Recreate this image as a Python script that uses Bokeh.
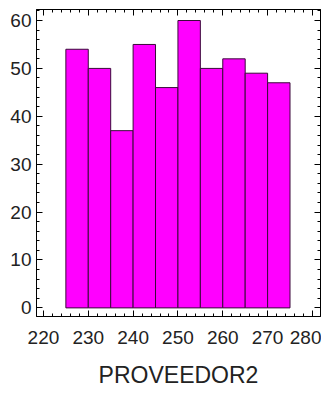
from bokeh.plotting import figure
from bokeh.models import LinearAxis, Range1d, SingleIntervalTicker, CustomJSTickFormatter
from bokeh.embed import file_html
from bokeh.resources import INLINE

bin_left = [225, 230, 235, 240, 245, 250, 255, 260, 265, 270]
bin_right = [230, 235, 240, 245, 250, 255, 260, 265, 270, 275]
counts = [54, 50, 37, 55, 46, 60, 50, 52, 49, 47]
x_label = "PROVEEDOR2"

FONT = "Liberation Sans"

p = figure(width=321, height=390, output_backend="svg", toolbar_location=None,
           x_range=Range1d(218.45, 281.8), y_range=Range1d(-1.8, 62.3),
           min_border_left=36, min_border_right=1, min_border_top=9, min_border_bottom=10)
p.grid.visible = False
p.outline_line_color = "black"
p.outline_line_width = 1
p.background_fill_color = "white"
p.border_fill_color = "white"

p.quad(left=bin_left, right=bin_right, bottom=0, top=counts,
       fill_color="#FF00FF", line_color="#3a0a3a", line_width=1)

def style(ax, labels=True):
    ax.ticker = SingleIntervalTicker(interval=10, num_minor_ticks=5)
    ax.major_tick_in = 6
    ax.major_tick_out = 0
    ax.minor_tick_in = 3
    ax.minor_tick_out = 0
    ax.axis_line_color = "black"
    ax.major_tick_line_color = "black"
    ax.minor_tick_line_color = "black"
    if labels:
        ax.major_label_text_font = FONT
        ax.major_label_text_font_size = "19px"
        ax.major_label_text_color = "#222222"
    else:
        ax.formatter = CustomJSTickFormatter(code="return '';")
        ax.major_label_standoff = 0

style(p.xaxis[0])
style(p.yaxis[0])
p.xaxis[0].major_label_standoff = 14
p.yaxis[0].major_label_standoff = 5
p.xaxis[0].axis_label = x_label
p.xaxis[0].axis_label_text_font = FONT
p.xaxis[0].axis_label_text_font_size = "23px"
p.xaxis[0].axis_label_text_font_style = "normal"
p.xaxis[0].axis_label_text_color = "#222222"
p.xaxis[0].axis_label_standoff = 15

top_ax = LinearAxis()
style(top_ax, labels=False)
p.add_layout(top_ax, "above")
right_ax = LinearAxis()
style(right_ax, labels=False)
p.add_layout(right_ax, "right")

open("out.html", "w").write(file_html(p, INLINE))
